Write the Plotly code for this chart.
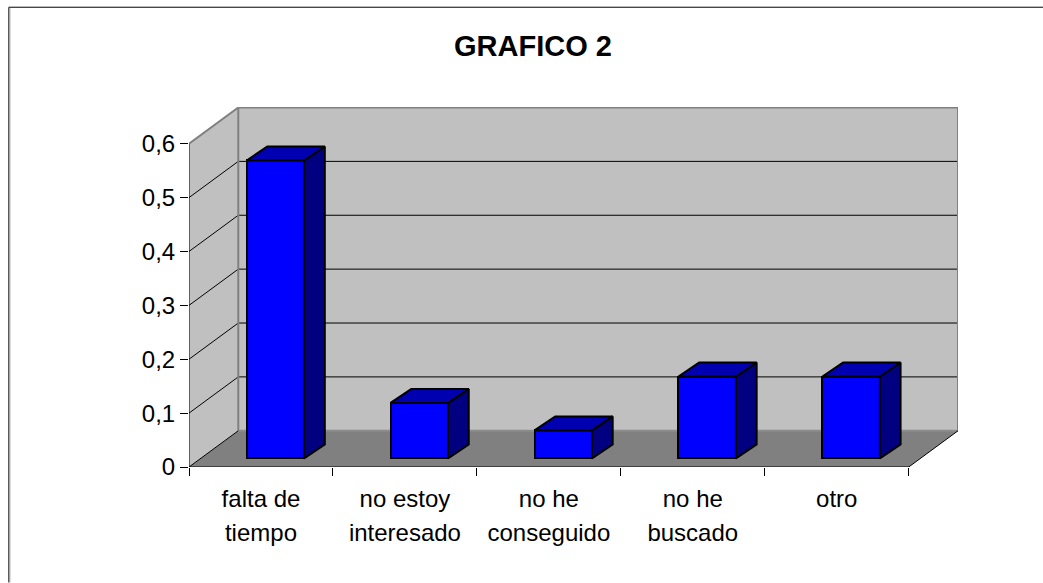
import plotly.graph_objects as go

# ---- data ----
categories_line1 = ["falta de", "no estoy", "no he", "no he", "otro"]
categories_line2 = ["tiempo", "interesado", "conseguido", "buscado", " "]
values = [0.553, 0.103, 0.052, 0.152, 0.152]
y_ticks = [0, 0.1, 0.2, 0.3, 0.4, 0.5, 0.6]
y_labels = ["0", "0,1", "0,2", "0,3", "0,4", "0,5", "0,6"]
title_text = "GRAFICO 2"

# ---- pseudo-3D geometry in axis units ----
W, H = 1043, 583
PX_X = 144.0          # pixels per category
PX_Y = 540.0          # pixels per unit of value
L, R, T, B = 188.7, 958.0, 106.5, 467.3
DX = 49.3 / PX_X      # wall depth
DY = 36.3 / PX_Y
BAR_W = 57.5 / PX_X
BAR_SHIFT_X = 14.4 / PX_X
BAR_BASE = 8.6 / PX_Y
BAR_DX = 20.7 / PX_X
BAR_DY = 14.0 / PX_Y
N = len(values)
Y_MAX = y_ticks[-1]

C_WALL, C_FLOOR, C_EDGE = "#C0C0C0", "#808080", "#808080"
C_FRONT, C_TOP, C_SIDE = "#0000FF", "#0000B0", "#000080"


def path(pts):
    return "M" + "L".join(f"{x},{y}" for x, y in pts) + "Z"


def poly(pts, fill):
    return dict(type="path", xref="x", yref="y", layer="below", path=path(pts),
                fillcolor=fill, line=dict(width=0))


def seg(x0, y0, x1, y1, color, width):
    return dict(type="line", xref="x", yref="y", layer="below", x0=x0, y0=y0, x1=x1, y1=y1,
                line=dict(color=color, width=width))


def paper_line(px0, py0, px1, py1, color):
    return dict(type="line", xref="paper", yref="paper", layer="below",
                x0=(px0 - L) / (R - L), x1=(px1 - L) / (R - L),
                y0=(B - py0) / (B - T), y1=(B - py1) / (B - T),
                line=dict(color=color, width=1))


shapes = [
    poly([(DX, DY), (N + DX, DY), (N + DX, Y_MAX + DY), (DX, Y_MAX + DY)], C_WALL),
    poly([(0, 0), (DX, DY), (DX, Y_MAX + DY), (0, Y_MAX)], C_WALL),
    poly([(0, 0), (N, 0), (N + DX, DY), (DX, DY)], C_FLOOR),
]
for t in y_ticks[1:-1]:
    shapes.append(seg(0, t, DX, t + DY, "black", 1))
    shapes.append(seg(DX, t + DY, N + DX, t + DY, "black", 1))
shapes += [
    seg(DX, DY, DX, Y_MAX + DY, C_EDGE, 2),
    seg(DX, Y_MAX + DY, N + DX, Y_MAX + DY, C_EDGE, 2),
    seg(N + DX, Y_MAX + DY, N + DX, DY, C_EDGE, 2),
    seg(DX, DY, N + DX, DY, "#8c8c8c", 2),
    seg(0, Y_MAX, DX, Y_MAX + DY, C_EDGE, 2),
    seg(0, 0, DX, DY, "black", 1),
    seg(N, 0, N + DX, DY, "black", 1),
    seg(0, 0, N, 0, "black", 1),
    seg(0, 0, 0, Y_MAX, "black", 1),
    # chart-area frame along the top and left edges
    paper_line(8.5, 6.5, W, 6.5, "black"),
    paper_line(8.5, 6.5, 8.5, H, "black"),
    paper_line(9.5, 7, 9.5, H, "#A0A0A0"),
]

centers = [i + 0.5 for i in range(N)]
fronts = [c + BAR_SHIFT_X for c in centers]

fig = go.Figure()
fig.add_trace(go.Bar(
    x=fronts, y=values, base=[BAR_BASE] * N, width=BAR_W,
    marker=dict(color=C_FRONT, line=dict(color="black", width=2)),
    hoverinfo="skip", showlegend=False,
))
for xc, v in zip(fronts, values):
    x0, x1 = xc - BAR_W / 2, xc + BAR_W / 2
    y0, y1 = BAR_BASE, BAR_BASE + v
    fig.add_trace(go.Scatter(
        x=[x1, x1 + BAR_DX, x1 + BAR_DX, x1, x1], y=[y0, y0 + BAR_DY, y1 + BAR_DY, y1, y0],
        mode="lines", fill="toself", fillcolor=C_SIDE, line=dict(color="black", width=2),
        hoverinfo="skip", showlegend=False,
    ))
    fig.add_trace(go.Scatter(
        x=[x0, x1, x1 + BAR_DX, x0 + BAR_DX, x0], y=[y1, y1, y1 + BAR_DY, y1 + BAR_DY, y1],
        mode="lines", fill="toself", fillcolor=C_TOP, line=dict(color="black", width=2),
        hoverinfo="skip", showlegend=False,
    ))
# second tick-label row lives on an overlaid axis
fig.add_trace(go.Scatter(x=centers, y=[0] * N, xaxis="x2", mode="markers",
                         marker=dict(opacity=0), hoverinfo="skip", showlegend=False))

FONT = "Liberation Sans, Arial, sans-serif"
x_range = [0, (R - L) / PX_X]
y_range = [0, (B - T) / PX_Y]
fig.update_layout(
    width=W, height=H, autosize=False,
    paper_bgcolor="white", plot_bgcolor="rgba(0,0,0,0)",
    margin=dict(l=L, r=W - R, t=T, b=H - B, pad=0),
    font=dict(family=FONT, size=24, color="black"),
    title=dict(text=f"<b>{title_text}</b>", x=533 / W, xanchor="center", y=1 - 46 / H, yanchor="middle",
               font=dict(family=FONT, size=29, color="black")),
    showlegend=False, bargap=0,
    shapes=shapes,
    xaxis=dict(range=x_range, showgrid=False, zeroline=False, showline=False,
               tickmode="array", tickvals=centers, ticktext=categories_line1,
               ticks="", ticklabelstandoff=15,
               minor=dict(tickmode="array", tickvals=list(range(N + 1)), ticks="outside", ticklen=8,
                          tickcolor="black", tickwidth=1, showgrid=False)),
    xaxis2=dict(range=x_range, overlaying="x", anchor="y", side="bottom", showgrid=False, zeroline=False,
                showline=False, tickmode="array", tickvals=centers, ticktext=categories_line2,
                ticks="", ticklabelstandoff=49),
    yaxis=dict(range=y_range, showgrid=False, zeroline=False, showline=False,
               tickmode="array", tickvals=y_ticks, ticktext=y_labels,
               ticks="outside", ticklen=8, tickcolor="black", tickwidth=1),
)

fig.write_html("out.html", config={"displayModeBar": False},
               post_script="document.body.style.margin='0';")
